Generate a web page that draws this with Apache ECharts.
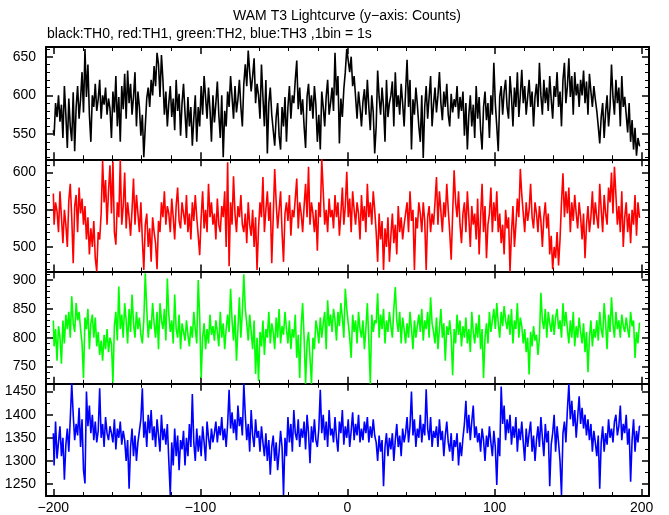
<!DOCTYPE html>
<html>
<head>
<meta charset="utf-8">
<script src="https://cdn.jsdelivr.net/npm/echarts@6/dist/echarts.min.js"></script>
<style>
html,body{margin:0;padding:0;background:#fff;}
#chart{width:669px;height:515px;}
</style>
</head>
<body>
<div id="chart"></div>
<script>
// ---- data (counts per 1 s bin, bins start at -200) ----
const binStart = -200;
const binSize = 1;
const th0 = [
555,548,590,572,600,566,588,545,612,575,
532,596,560,541,604,528,585,612,570,595,
630,578,660,598,640,575,540,600,585,615,
580,595,620,570,600,588,610,575,596,583,
545,605,578,625,560,598,540,612,582,628,
570,632,590,615,575,598,630,560,605,585,
548,575,520,560,596,610,585,620,600,638,
612,655,640,598,652,620,575,605,560,590,
612,572,596,555,620,580,602,548,590,615,
578,545,598,560,585,535,570,600,540,585,
560,612,575,625,598,570,610,582,540,600,
565,590,618,575,545,600,520,580,560,605,
585,625,598,570,612,578,595,620,585,560,
615,640,612,658,630,605,625,648,590,615,
600,570,640,598,560,620,525,590,610,575,
555,535,572,590,548,530,585,560,598,540,
585,612,570,600,590,620,645,582,610,575,
595,560,532,598,615,580,600,570,612,588,
540,575,530,605,585,560,598,620,575,590,
610,580,655,600,625,538,596,572,608,630,
660,645,630,650,612,625,598,570,605,585,
560,592,608,575,620,585,555,600,578,525,
560,632,598,575,610,585,540,620,572,590,
600,618,560,630,585,600,575,615,590,560,
605,646,585,620,530,595,575,610,588,560,
540,600,519,585,612,570,598,625,560,588,
610,578,600,630,590,568,605,585,615,575,
560,602,578,595,585,612,570,598,580,605,
548,590,530,575,600,560,588,545,612,570,
598,555,530,585,605,568,590,545,600,575,
642,590,560,528,598,612,575,605,620,585,
570,625,598,560,610,585,630,572,600,633,
590,612,575,598,620,585,605,560,598,615,
585,642,600,575,620,590,610,580,625,595,
570,612,598,630,585,605,560,620,642,590,
612,648,598,625,575,630,600,615,585,620,
600,632,590,618,575,628,605,585,612,595,
580,560,538,572,590,545,578,600,560,585,
640,598,575,620,590,610,560,625,585,598,
575,552,590,540,568,530,558,522,545,535
];
const th1 = [
572,530,560,548,520,575,540,505,550,530,
500,562,585,540,478,555,570,520,580,545,
565,530,555,510,540,490,525,500,535,485,
467,520,510,545,616,560,590,530,575,610,
545,615,520,503,560,540,617,530,555,600,
525,560,540,515,550,592,530,570,545,520,
560,510,469,530,545,500,525,480,540,520,
505,470,535,520,560,540,575,530,555,545,
520,565,540,510,555,580,535,525,560,545,
530,570,520,545,510,560,535,570,540,515,
489,540,575,525,550,520,585,540,560,530,
545,510,565,530,520,555,540,575,500,614,
474,560,530,595,545,520,555,540,570,530,
520,545,505,560,530,515,550,500,540,469,
525,560,540,594,520,550,575,535,560,478,
540,605,560,525,550,575,520,480,545,560,
535,570,515,550,540,565,592,525,560,545,
520,555,585,540,608,530,560,545,520,550,
495,560,540,618,575,530,550,520,565,540,
550,525,570,540,560,515,545,580,530,555,
601,540,565,520,575,550,530,560,545,510,
570,535,555,520,585,540,560,530,575,550,
520,480,545,510,535,469,525,500,540,480,
515,545,505,530,490,555,520,540,510,530,
545,560,520,575,535,550,469,540,525,560,
545,520,560,535,469,540,555,520,545,530,
560,594,530,575,548,520,560,540,585,550,
520,483,545,603,560,540,575,530,505,545,
560,520,575,540,500,555,530,545,510,565,
490,540,585,520,555,485,530,545,580,520,
560,535,575,520,545,505,530,490,550,525,
540,467,520,555,500,530,565,540,605,570,
545,520,560,535,550,585,540,525,560,545,
520,555,535,500,540,560,525,545,490,515,
470,500,485,520,475,510,560,599,540,575,
545,580,520,560,535,570,545,525,560,540,
510,545,485,530,555,520,540,575,530,560,
540,525,585,550,520,570,545,530,580,560,
600,545,608,570,530,555,520,575,500,540,
560,520,545,505,550,530,570,515,560,540
];
const th2 = [
830,785,815,760,820,800,755,830,790,840,
815,845,800,872,825,810,860,830,845,815,
790,730,835,815,850,780,825,840,800,835,
785,810,770,795,760,805,780,815,775,800,
790,722,820,845,795,889,815,840,800,860,
830,790,850,810,875,825,800,845,815,835,
805,790,830,912,850,800,830,815,860,825,
800,845,780,860,830,815,850,795,903,840,
810,830,790,875,815,800,840,780,825,810,
795,830,805,785,820,800,845,815,790,900,
835,730,800,825,780,815,790,840,805,820,
795,830,810,785,845,800,825,780,815,840,
810,885,830,795,840,760,815,870,800,845,
910,850,825,795,840,810,780,830,737,800,
725,810,785,830,770,815,800,845,790,825,
810,780,835,800,850,790,820,805,845,815,
790,830,780,815,800,840,765,805,730,820,
860,800,720,790,810,765,720,800,780,830,
815,790,835,800,825,845,780,865,820,840,
810,850,830,795,845,820,860,835,800,885,
850,825,800,765,840,810,830,790,845,815,
800,830,780,815,860,795,720,840,810,830,
825,877,800,840,815,850,790,830,810,845,
820,800,850,888,830,810,845,790,835,815,
790,825,800,845,815,780,830,800,820,840,
810,850,795,830,815,845,800,870,825,810,
790,835,780,815,850,800,825,760,820,805,
830,800,735,815,790,840,805,830,785,820,
800,835,790,815,775,845,810,790,825,800,
840,780,815,730,800,825,790,845,810,830,
850,815,860,825,800,845,820,855,830,815,
840,805,850,790,830,815,860,800,835,820,
790,815,775,800,736,810,785,820,795,805,
770,800,878,830,815,850,800,845,825,810,
840,805,835,850,815,830,800,860,820,845,
815,790,830,800,845,785,820,800,835,810,
790,825,775,810,740,800,830,785,815,800,
830,795,845,815,800,860,825,780,840,810,
870,825,800,845,815,830,800,840,820,810,
835,815,800,845,820,830,765,810,790,825
];
const th3 = [
1360,1290,1385,1305,1340,1375,1310,1350,1259,1335,
1370,1320,1390,1468,1400,1345,1380,1355,1415,1330,
1390,1280,1251,1450,1375,1420,1360,1400,1345,1385,
1340,1365,1457,1350,1380,1330,1395,1360,1345,1375,
1360,1340,1390,1325,1370,1350,1385,1335,1365,1345,
1300,1345,1240,1330,1370,1310,1355,1300,1340,1365,
1390,1457,1350,1385,1330,1400,1360,1410,1345,1375,
1330,1390,1355,1320,1400,1345,1370,1335,1380,1300,
1226,1340,1290,1370,1310,1355,1280,1345,1325,1365,
1290,1350,1310,1380,1330,1445,1340,1300,1370,1320,
1355,1310,1375,1340,1300,1385,1350,1325,1370,1340,
1360,1385,1340,1375,1355,1395,1345,1370,1330,1380,
1454,1370,1405,1360,1390,1345,1420,1375,1395,1355,
1468,1400,1345,1380,1320,1410,1355,1330,1390,1350,
1365,1320,1375,1340,1310,1360,1300,1345,1270,1330,
1355,1300,1340,1280,1320,1365,1330,1226,1350,1310,
1395,1340,1380,1320,1410,1360,1345,1390,1330,1370,
1350,1385,1325,1400,1360,1295,1375,1340,1390,1345,
1330,1370,1454,1360,1400,1345,1385,1330,1410,1355,
1370,1340,1395,1350,1320,1385,1360,1410,1335,1375,
1350,1390,1330,1365,1405,1345,1380,1355,1400,1340,
1370,1345,1385,1360,1395,1340,1375,1350,1390,1355,
1340,1300,1355,1320,1345,1245,1330,1360,1310,1350,
1325,1360,1300,1345,1380,1330,1355,1310,1370,1340,
1360,1395,1340,1375,1450,1355,1390,1330,1370,1350,
1400,1340,1380,1355,1455,1370,1345,1395,1330,1365,
1350,1375,1330,1390,1345,1365,1310,1355,1385,1340,
1320,1360,1300,1345,1330,1360,1290,1340,1310,1350,
1380,1430,1360,1400,1345,1385,1420,1350,1375,1340,
1360,1320,1370,1345,1300,1355,1330,1375,1340,1310,
1365,1330,1248,1350,1310,1461,1380,1420,1345,1390,
1360,1400,1335,1375,1350,1395,1320,1370,1345,1385,
1340,1300,1370,1330,1360,1385,1320,1355,1300,1345,
1375,1330,1395,1350,1310,1380,1340,1365,1245,1335,
1360,1400,1320,1375,1340,1300,1226,1360,1385,1340,
1410,1466,1390,1430,1375,1410,1350,1395,1440,1380,
1415,1370,1400,1355,1390,1345,1380,1320,1365,1340,
1310,1355,1240,1340,1375,1320,1360,1335,1390,1350,
1370,1340,1385,1400,1355,1375,1420,1345,1380,1360,
1400,1335,1370,1255,1345,1390,1320,1365,1340,1375
];
const seriesNames = ['TH0','TH1','TH2','TH3'];
const xMajorTicks = [-200,-100,0,100,200];
const yMajorTicks = [[550,600,650],[500,550,600],[750,800,850,900],[1250,1300,1350,1400,1450]];
const yRanges = [[517.5,662.5],[467,618],[720,915],[1224,1467]];
const yMinorStep = [10,10,10,25];
const colors = ['#000000','#ff0000','#00ff00','#0000ff'];

// ---- layout ----
const frameLeft = 46, frameRight = 20, frameTop = 47, frameBottom = 496;
const panelH = (frameBottom - frameTop) / 4;
const xMin = -205, xMax = 205;

function range(a, b, s){ const r=[]; for(let v=a; v<=b+1e-9; v+=s) r.push(v); return r; }
const xMinorTicks = range(-200,200,20).filter(v => xMajorTicks.indexOf(v) < 0);
const fmt = v => String(v).replace('-', '\u2212');

const grids = [], xAxes = [], yAxes = [], series = [];
for (let i = 0; i < 4; i++) {
  grids.push({left: frameLeft, right: frameRight, top: frameTop + i*panelH, height: panelH, containLabel: false});
  const lineStyle = {color:'#000', width:2};
  const majorTick = (vals) => ({show:true, inside:true, length:7, customValues: vals, lineStyle:{color:'#000', width:1.5}});
  const minorTick = (vals) => ({show:true, inside:true, length:4, customValues: vals, lineStyle:{color:'#000', width:1}});
  const baseX = {type:'value', gridIndex:i, min:xMin, max:xMax, splitLine:{show:false}};
  xAxes.push(Object.assign({}, baseX, {position:'bottom', axisLine:{show:true, onZero:false, lineStyle},
    axisTick: majorTick(xMajorTicks),
    axisLabel: {show: i===3, customValues: xMajorTicks, formatter: fmt, color:'#000', fontSize:14, fontFamily:'Liberation Sans, Arial, sans-serif', margin:5}}));
  xAxes.push(Object.assign({}, baseX, {position:'bottom', axisLine:{show:false, onZero:false}, axisTick: minorTick(xMinorTicks), axisLabel:{show:false}}));
  xAxes.push(Object.assign({}, baseX, {position:'top', axisLine:{show:true, onZero:false, lineStyle}, axisTick: majorTick(xMajorTicks), axisLabel:{show:false}}));
  xAxes.push(Object.assign({}, baseX, {position:'top', axisLine:{show:false, onZero:false}, axisTick: minorTick(xMinorTicks), axisLabel:{show:false}}));

  const [ymin, ymax] = yRanges[i];
  const yMaj = yMajorTicks[i];
  const st = yMinorStep[i];
  const yMin = range(Math.ceil(ymin/st)*st, Math.floor(ymax/st)*st, st).filter(v => yMaj.indexOf(v) < 0);
  const baseY = {type:'value', gridIndex:i, min:ymin, max:ymax, splitLine:{show:false}};
  yAxes.push(Object.assign({}, baseY, {position:'left', axisLine:{show:true, onZero:false, lineStyle}, axisTick: majorTick(yMaj),
    axisLabel:{show:true, customValues: yMaj, formatter: v => String(v), color:'#000', fontSize:14, fontFamily:'Liberation Sans, Arial, sans-serif', margin:10}}));
  yAxes.push(Object.assign({}, baseY, {position:'left', axisLine:{show:false, onZero:false}, axisTick: minorTick(yMin), axisLabel:{show:false}}));
  yAxes.push(Object.assign({}, baseY, {position:'right', axisLine:{show:true, onZero:false, lineStyle}, axisTick: majorTick(yMaj), axisLabel:{show:false}}));
  yAxes.push(Object.assign({}, baseY, {position:'right', axisLine:{show:false, onZero:false}, axisTick: minorTick(yMin), axisLabel:{show:false}}));
}
const allData = [th0, th1, th2, th3];
for (let i = 0; i < 4; i++) {
  series.push({
    name: seriesNames[i], type:'line', step:'middle', xAxisIndex: 4*i, yAxisIndex: 4*i,
    data: allData[i].map((v,k) => [binStart + k*binSize, v]),
    showSymbol:false, symbol:'none', clip:true,
    lineStyle:{color: colors[i], width:1.6}, itemStyle:{color: colors[i]}
  });
}

const chart = echarts.init(document.getElementById('chart'), null, {renderer:'canvas'});
chart.setOption({
  animation:false,
  backgroundColor:'#ffffff',
  grid: grids, xAxis: xAxes, yAxis: yAxes, series,
  graphic: [
    {type:'text', x:347, y:9, style:{text:'WAM T3 Lightcurve (y\u2212axis: Counts)', textAlign:'center', fill:'#000', font:'14px "Liberation Sans", Arial, sans-serif'}},
    {type:'text', x:47, y:27, style:{text:'black:TH0, red:TH1, green:TH2, blue:TH3 ,1bin = 1s', textAlign:'left', fill:'#000', font:'14px "Liberation Sans", Arial, sans-serif'}}
  ]
});
</script>
</body>
</html>
